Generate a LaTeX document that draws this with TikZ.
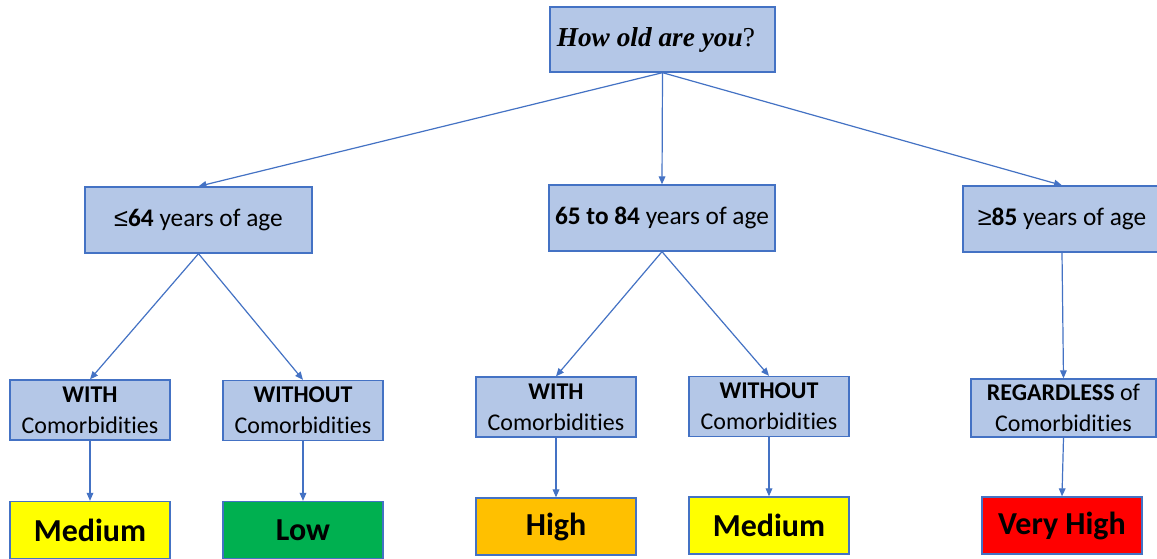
\documentclass[tikz,border=0pt]{standalone}
\usepackage{fontspec}
\setmainfont[Ligatures={NoCommon}]{Carlito}
\newfontfamily\qfont{Liberation Serif}
\newfontfamily\symfont{Liberation Sans}
\usetikzlibrary{arrows.meta}
\definecolor{boxc}{HTML}{B4C7E7}
\definecolor{bordc}{HTML}{4472C4}
\definecolor{arrc}{HTML}{4472C4}
\definecolor{ryellow}{HTML}{FFFF00}
\definecolor{rgreen}{HTML}{00B050}
\definecolor{rorange}{HTML}{FFC000}
\definecolor{rred}{HTML}{FF0000}
\tikzset{
  qbox/.style={draw=bordc, fill=boxc, line width=1pt, inner sep=0pt, align=center},
  agebox/.style={qbox, font=\fontsize{19}{23}\selectfont},
  combox/.style={qbox, font=\fontsize{18}{23}\selectfont, minimum width=160*0.75pt, minimum height=60*0.75pt},
  riskbox/.style={draw=bordc, line width=1pt, inner sep=0pt, minimum width=160*0.75pt, minimum height=57*0.75pt, font=\fontsize{24}{28}\selectfont\bfseries},
  conn/.style={draw=arrc, line width=0.9pt, -{Triangle[length=6pt,width=5pt]}}
}
\begin{document}
\begin{tikzpicture}[x=0.75pt,y=-0.75pt]
\useasboundingbox (0,0) rectangle (1157,558);
\clip (0,0) rectangle (1157,558);
\fill[white] (0,0) rectangle (1157,558);
% top
\node[qbox, minimum width=225*0.75pt, minimum height=65*0.75pt, font=\fontsize{20.5}{24}\selectfont\qfont] (top) at (662.5,39.5) {\hspace*{-10pt}\textbf{\textit{How old are you}}?};
% level 2
\node[agebox, minimum width=227*0.75pt, minimum height=66*0.75pt] (L1) at (198.5,220) {{\symfont ≤}\textbf{64} years of age};
\node[agebox, minimum width=226*0.75pt, minimum height=66*0.75pt] (M1) at (662,218) {\textbf{65 to 84} years of age};
\node[agebox, minimum width=198*0.75pt, minimum height=66*0.75pt] (R1) at (1062,219) {{\symfont ≥}\textbf{85} years of age};
% level 3
\node[combox] (A) at (90,410) {\textbf{WITH}\\Comorbidities};
\node[combox] (B) at (303,410.5) {\textbf{WITHOUT}\\Comorbidities};
\node[combox] (C) at (556,407) {\textbf{WITH}\\Comorbidities};
\node[combox] (D) at (769,406.5) {\textbf{WITHOUT}\\Comorbidities};
\node[combox, minimum width=185*0.75pt, minimum height=58*0.75pt] (E) at (1063.5,408) {\textbf{REGARDLESS} of\\Comorbidities};
% level 4
\node[riskbox, fill=ryellow] (A2) at (90,530) {Medium};
\node[riskbox, fill=rgreen] (B2) at (303,530) {Low};
\node[riskbox, fill=rorange] (C2) at (556,526.5) {High};
\node[riskbox, fill=ryellow] (D2) at (769,525.5) {Medium};
\node[riskbox, fill=rred] (E2) at (1062,525.5) {Very High};
% connectors
\draw[conn] (top.south) -- (L1.north);
\draw[conn] (top.south) -- (M1.north);
\draw[conn] (top.south) -- (R1.north);
\draw[conn] (L1.south) -- (A.north);
\draw[conn] (L1.south) -- (B.north);
\draw[conn] (M1.south) -- (C.north);
\draw[conn] (M1.south) -- (D.north);
\draw[conn] (R1.south) -- (E.north);
\draw[conn] (A.south) -- (A2.north);
\draw[conn] (B.south) -- (B2.north);
\draw[conn] (C.south) -- (C2.north);
\draw[conn] (D.south) -- (D2.north);
\draw[conn] (E.south) -- (E2.north);
\end{tikzpicture}
\end{document}
